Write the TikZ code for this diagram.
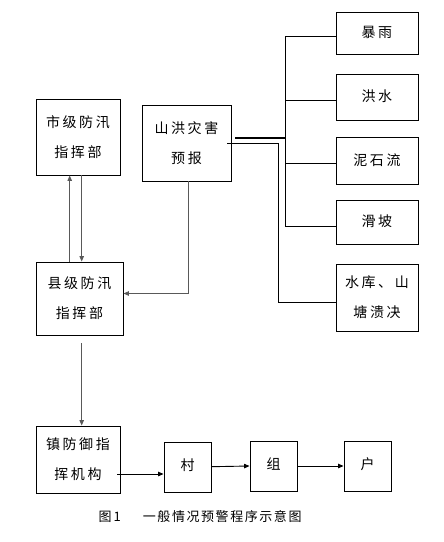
\documentclass[tikz,border=0pt]{standalone}
\usepackage{fontspec}
\newfontfamily\cjk[LetterSpace=18]{Noto Sans CJK SC}
\newfontfamily\cjkcap[LetterSpace=12]{Noto Sans CJK SC}
\usetikzlibrary{arrows.meta}
\newcommand{\up}[2]{\raisebox{#1}{#2}}
\begin{document}
\begin{tikzpicture}[x=1pt,y=-1pt,
  box/.style={draw,line width=0.9pt,align=center,inner sep=0pt,font=\cjk\fontsize{14}{30}\selectfont},
  ln/.style={line width=0.9pt},
  arr/.style={line width=0.9pt,-{Triangle[length=5.5pt,width=4.5pt]}},
  garr/.style={arr,draw=black!65}]
\useasboundingbox (0,0) rectangle (444,542);
% right column
\node[box,minimum width=82,minimum height=42] (baoyu) at (377,33) {\up{3pt}{暴雨}};
\node[box,minimum width=82,minimum height=46] (hongshui) at (377,97) {\up{3pt}{洪水}};
\node[box,minimum width=82,minimum height=47] (nishiliu) at (377,160.5) {\up{1pt}{泥石流}};
\node[box,minimum width=82,minimum height=44] (huapo) at (377,222) {\up{2pt}{滑坡}};
\node[box,minimum width=82,minimum height=67] (shuiku) at (377,297.5) {水库、山\\塘溃决};
% middle
\node[box,minimum width=89,minimum height=76] (shanhong) at (186.5,143) {山洪灾害\\预报};
% left
\node[box,minimum width=84,minimum height=76] (shiji) at (78,137) {市级防汛\\指挥部};
\node[box,minimum width=87,minimum height=73] (xianji) at (79.5,298.5) {县级防汛\\指挥部};
\node[box,minimum width=84,minimum height=67] (zhen) at (78,459.5) {镇防御指\\挥机构};
% bottom row
\node[box,minimum width=47,minimum height=50] (cun) at (187.5,467) {\up{5pt}{村}};
\node[box,minimum width=47,minimum height=50] (zu) at (273.5,466) {\up{5pt}{组}};
\node[box,minimum width=47,minimum height=50] (hu) at (367.5,466) {\up{5pt}{户}};
% caption
\node[font=\cjkcap\fontsize{13}{15}\selectfont,anchor=west] (cap) at (95,517) {图\,1\hspace{22pt}一般情况预警程序示意图};
% trunk
\coordinate (tx) at (285,0);
\coordinate (ux) at (282.3,0);
\draw[ln] ([yshift=-3pt]baoyu.west) -- ([yshift=-3pt]baoyu.west -| tx) -- ([yshift=-4pt]huapo.west -| tx) -- ([yshift=-4pt]huapo.west);
\draw[ln] ([yshift=-3pt]hongshui.west) -- ([yshift=-3pt]hongshui.west -| tx);
\draw[ln] ([yshift=-3pt]nishiliu.west) -- ([yshift=-3pt]nishiliu.west -| tx);
\coordinate (thk) at ([shift={(4,-5.3)}]shanhong.east);
\draw[line width=1.8pt] (thk) -- (thk -| tx);
\draw[ln] ([xshift=-4pt]shanhong.east) -- ([xshift=-4pt]shanhong.east -| ux) |- ([yshift=-5pt]shuiku.west);
% forecast to county
\draw[garr] ([xshift=2pt]shanhong.south) |- ([yshift=5pt]xianji.east);
% city <-> county
\coordinate (ax) at (69.7,0);
\coordinate (bx) at (81.7,0);
\draw[garr] (xianji.north -| ax) -- (shiji.south -| ax);
\draw[garr] (shiji.south -| bx) -- (xianji.north -| bx);
% county -> town
\draw[garr] ([yshift=-8pt]xianji.south -| bx) -- (zhen.north -| bx);
% bottom chain
\coordinate (zs) at ([shift={(-3,14.5)}]zhen.east);
\draw[arr] (zs) -- (cun.west |- zs);
\draw[arr] ([yshift=0.3pt]cun.east) -- (zu.west);
\draw[arr] (zu.east) -- (hu.west);
\end{tikzpicture}
\end{document}
